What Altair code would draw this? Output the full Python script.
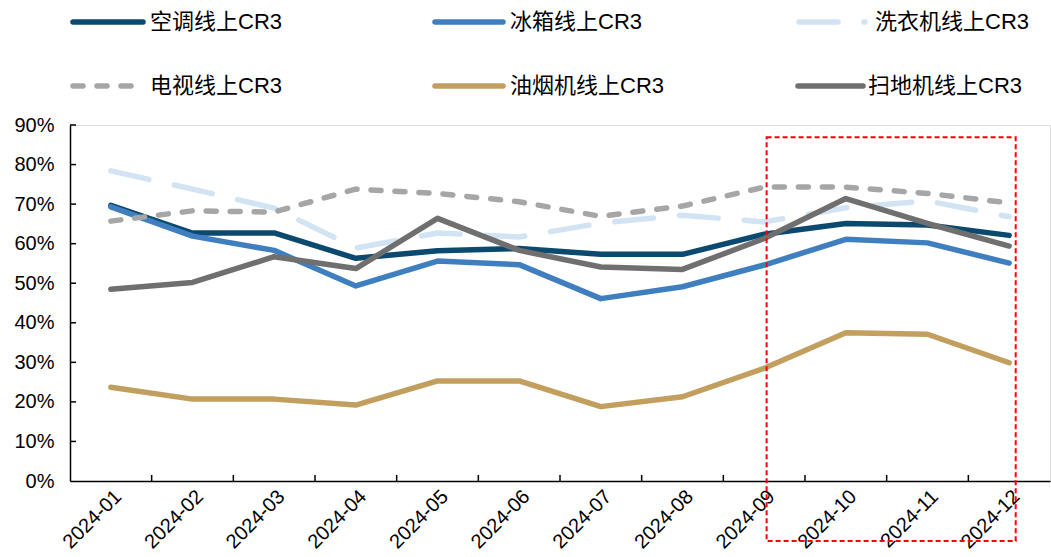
import json
import altair as alt
import pandas as pd

# Monthly online CR3 (%) by appliance category
months = ["2024-01", "2024-02", "2024-03", "2024-04", "2024-05", "2024-06",
          "2024-07", "2024-08", "2024-09", "2024-10", "2024-11", "2024-12"]

names = ["空调线上CR3", "冰箱线上CR3", "洗衣机线上CR3",
         "电视线上CR3", "油烟机线上CR3", "扫地机线上CR3"]

air_conditioner = [69.7, 62.7, 62.7, 56.3, 58.2, 58.8, 57.3, 57.3, 62.4, 65.1, 64.7, 62.1]
refrigerator = [69.3, 61.9, 58.3, 49.3, 55.6, 54.7, 46.1, 49.1, 54.6, 61.1, 60.2, 55.1]
washer = [78.4, 73.8, 69.0, 58.9, 62.7, 61.7, 65.2, 67.2, 65.5, 69.1, 70.8, 66.8]
television = [65.7, 68.3, 68.0, 73.8, 72.7, 70.6, 66.9, 69.5, 74.3, 74.3, 72.7, 70.3]
range_hood = [23.7, 20.7, 20.7, 19.2, 25.3, 25.3, 18.8, 21.3, 28.5, 37.5, 37.1, 29.9]
robot_vacuum = [48.5, 50.2, 56.7, 53.7, 66.4, 58.3, 54.1, 53.5, 61.3, 71.4, 65.1, 59.4]

series = [air_conditioner, refrigerator, washer, television, range_hood, robot_vacuum]

colors = ["#0B4A6E", "#3F7FC0", "#D2E4F4", "#A6A6A6", "#C29F5E", "#6F6F6F"]
dashes = [None, None, [39, 26], [10, 14], None, None]

y_ticks = list(range(0, 100, 10))
highlight = [8, 11]  # 2024-09 .. 2024-12

W, H = 980, 356
FONT = "Liberation Sans, Arial, Noto Sans CJK SC"

label_expr = json.dumps(months) + "[datum.value]"

x_axis = alt.Axis(values=list(range(12)), labelExpr=label_expr, labelAngle=-45,
                  labelAlign="right", labelBaseline="top", labelPadding=5,
                  labelFontSize=20, labelFont=FONT, labelColor="#000000",
                  ticks=False, tickSize=0, grid=False, domainColor="#000000",
                  domainWidth=1.5, title=None, labelOverlap=False)
y_axis = alt.Axis(values=y_ticks, labelExpr="datum.value + '%'", labelPadding=16,
                  labelFontSize=20, labelFont=FONT, labelColor="#000000",
                  ticks=False, tickSize=0, grid=False, domainColor="#000000",
                  domainWidth=1.5, title=None)
x_scale = alt.Scale(domain=[-0.5, 11.5], nice=False, zero=False)
y_scale = alt.Scale(domain=[0, 90], nice=False, zero=False)


def xq(field):
    return alt.X(field, type="quantitative", scale=x_scale, axis=x_axis)


def yq(field):
    return alt.Y(field, type="quantitative", scale=y_scale, axis=y_axis)


layers = []

# inward tick marks on both axes
layers.append(
    alt.Chart(pd.DataFrame({"v": y_ticks[1:]})).mark_rule(color="#000000", strokeWidth=1.5)
    .encode(y=yq("v"), x=alt.value(0), x2=alt.value(6))
)
layers.append(
    alt.Chart(pd.DataFrame({"t": [i + 0.5 for i in range(11)]})).mark_rule(color="#000000", strokeWidth=1.5)
    .encode(x=xq("t"), y=alt.value(H), y2=alt.value(H - 6))
)

# one line per category
for name, vals, col, dash in zip(names, series, colors, dashes):
    df = pd.DataFrame({"idx": list(range(12)), "month": months, "value": vals})
    kw = dict(color=col, strokeWidth=5.5, strokeCap="round", strokeJoin="round")
    if dash:
        kw["strokeDash"] = dash
    layers.append(alt.Chart(df).mark_line(**kw).encode(x=xq("idx"), y=yq("value")))

# highlighted period box
box = pd.DataFrame({"x0": [highlight[0] + 0.03], "x1": [highlight[1] + 0.08],
                    "y0": [-15.2], "y1": [86.9]})
layers.append(
    alt.Chart(box).mark_rect(fillOpacity=0, stroke="#FF0000", strokeWidth=2, strokeDash=[5, 3])
    .encode(x=xq("x0"), x2="x1", y=yq("y0"), y2="y1")
)

# legend, two rows of three
legend_pos = [(3, 73, 80, -103), (365, 433, 440, -103), (729, 795, 805, -103),
              (3, 67, 80, -39), (365, 433, 440, -39), (728, 793, 798, -39)]
for name, col, dash, (sx0, sx1, tx, ly) in zip(names, colors, dashes, legend_pos):
    kw = dict(color=col, strokeWidth=5.5, strokeCap="round")
    if dash:
        kw["strokeDash"] = dash
    one = pd.DataFrame({"label": [name]})
    layers.append(alt.Chart(one).mark_rule(**kw)
                  .encode(x=alt.value(sx0), x2=alt.value(sx1), y=alt.value(ly)))
    layers.append(alt.Chart(one).mark_text(align="left", baseline="middle", fontSize=22,
                                           font=FONT, color="#000000")
                  .encode(x=alt.value(tx), y=alt.value(ly), text="label:N"))

chart = (
    alt.layer(*layers)
    .properties(width=W, height=H,
                padding={"left": 70, "top": 125, "right": 1, "bottom": 76},
                autosize=alt.AutoSizeParams(type="none"))
    .configure_view(strokeWidth=0)
    .configure(background="#FFFFFF")
)

chart.save("out.html", embed_options={"renderer": "svg", "actions": False})
